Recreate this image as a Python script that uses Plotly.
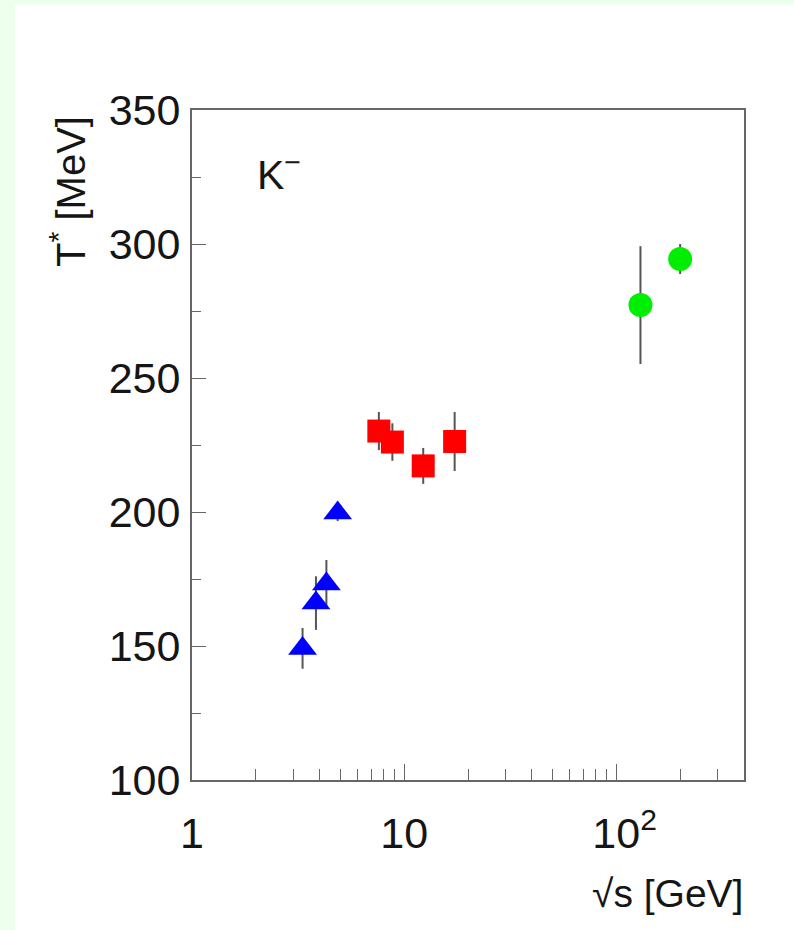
import plotly.graph_objects as go

# Inverse-slope parameter T* of K- spectra versus collision energy
ags_sqrts = [3.32, 3.84, 4.30, 4.86]
ags_T = [149.1, 166.0, 173.1, 199.6]
ags_err = [7.6, 10.0, 9.0, 3.0]

sps_sqrts = [7.6, 8.8, 12.3, 17.3]
sps_T = [230.2, 226.1, 217.2, 226.3]
sps_err = [7.1, 7.0, 6.7, 11.0]

rhic_sqrts = [130.0, 200.0]
rhic_T = [277.2, 294.4]
rhic_err = [22.0, 5.6]

x_ticks = [1, 10, 100]
# the hidden leading superscript keeps "10" centred on its tick
x_ticktext = ["1", "10",
              "<span style='color:rgba(0,0,0,0)'><sup>2</sup></span>10<sup>2</sup>"]
x_minor = [2, 3, 4, 5, 6, 7, 8, 9, 20, 30, 40, 50, 60, 70, 80, 90, 200, 300]
y_ticks = [100, 150, 200, 250, 300, 350]
y_minor = [125, 175, 225, 275, 325]

W, H = 794, 930
ML, MR, MT, MB = 192, 50, 110, 150
PW, PH = W - ML - MR, H - MT - MB

FONT = "Liberation Sans, Arial, Helvetica, sans-serif"
ERRC = "#555555"


def px_x(p):
    return (p - ML) / PW


def px_y(p):
    return (H - MB - p) / PH


fig = go.Figure()


def add_series(xs, ys, errs, symbol, color, size):
    fig.add_trace(go.Scatter(
        x=xs, y=ys, mode="markers",
        error_y=dict(type="data", array=errs, visible=True,
                     color=ERRC, thickness=2, width=0),
        marker=dict(symbol=symbol, color=color, size=size,
                    line=dict(width=0)),
        showlegend=False,
    ))


add_series(ags_sqrts, ags_T, ags_err, "triangle-up", "#0000ff", 25)
add_series(sps_sqrts, sps_T, sps_err, "square", "#ff0000", 23)
add_series(rhic_sqrts, rhic_T, rhic_err, "circle", "#00ee00", 24)

axis_common = dict(
    showline=True, linecolor="#666666", linewidth=2, mirror=True,
    showgrid=False, zeroline=False, ticks="inside", tickcolor="#666666",
    tickwidth=1, tickfont=dict(family=FONT, size=43, color="#151515"),
)

fig.update_xaxes(
    type="log", range=[0, 2.602],
    tickmode="array", tickvals=x_ticks, ticktext=x_ticktext,
    ticklen=16, ticklabelstandoff=14,
    minor=dict(ticks="inside", ticklen=11, tickvals=x_minor,
               tickcolor="#666666", tickwidth=1, showgrid=False),
    **axis_common,
)
fig.update_yaxes(
    range=[100, 350],
    tickmode="array", tickvals=y_ticks,
    ticklen=14, ticklabelstandoff=1,
    minor=dict(ticks="inside", ticklen=9, tickvals=y_minor,
               tickcolor="#666666", tickwidth=1, showgrid=False),
    **axis_common,
)

# white page panel over the pale green border
fig.add_shape(type="rect", xref="paper", yref="paper", layer="below",
              x0=px_x(15), x1=px_x(W + 2), y0=px_y(H + 2), y1=px_y(5),
              fillcolor="white", line=dict(width=0))

fig.add_annotation(text="K<sup>\u2212</sup>", xref="paper", yref="paper",
                   x=px_x(255), y=px_y(172), xanchor="left", yanchor="middle",
                   showarrow=False,
                   font=dict(family=FONT, size=41, color="#151515"))
fig.add_annotation(text="T<sup>*</sup> [MeV]", xref="paper", yref="paper",
                   x=px_x(68), y=px_y(192), xanchor="center", yanchor="middle",
                   textangle=-90, showarrow=False,
                   font=dict(family=FONT, size=40, color="#151515"))
fig.add_annotation(text="\u221as [GeV]", xref="paper", yref="paper",
                   x=px_x(745), y=px_y(893), xanchor="right", yanchor="middle",
                   showarrow=False,
                   font=dict(family=FONT, size=39, color="#151515"))

fig.update_layout(
    width=W, height=H,
    margin=dict(l=ML, r=MR, t=MT, b=MB, autoexpand=False),
    paper_bgcolor="#eeffee", plot_bgcolor="white",
    showlegend=False,
)

fig.write_html("out.html")
